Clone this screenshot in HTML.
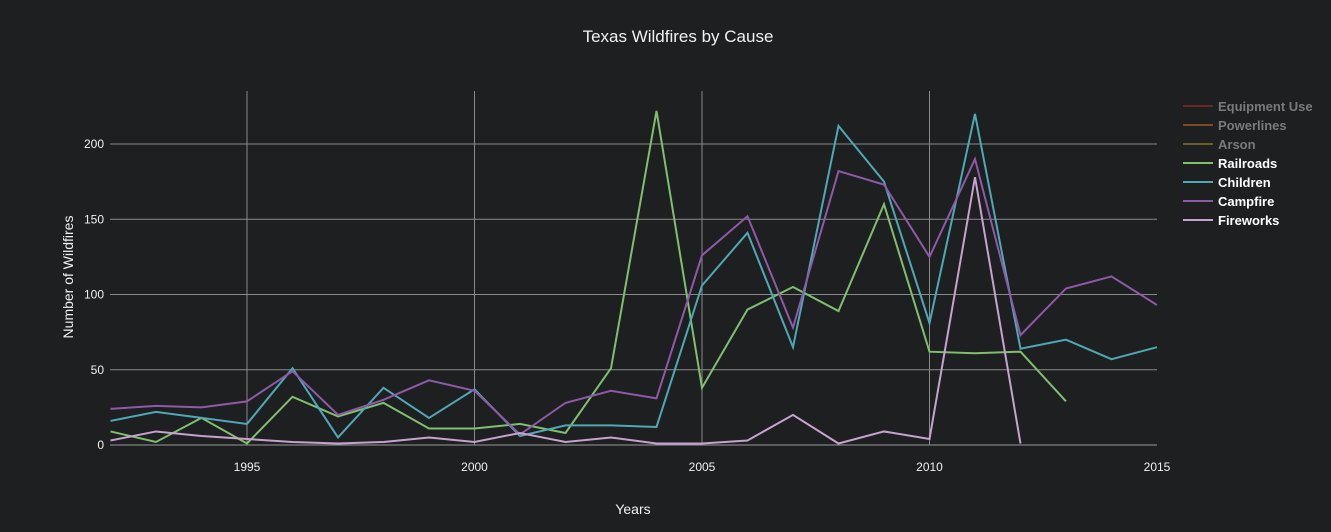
<!DOCTYPE html>
<html><head><meta charset="utf-8"><style>
body{margin:0;background:#1e1f21;font-family:"Liberation Sans",sans-serif}
svg text{font-family:"Liberation Sans",sans-serif}
</style></head><body>
<svg id="chart" width="1331" height="527">
<defs><clipPath id="lc"><rect x="1170" y="80" width="143" height="200"/></clipPath></defs>
<rect width="1331" height="527" fill="#1e1f21"/>
<text x="678" y="42" fill="#f0f0f0" font-size="17" text-anchor="middle">Texas Wildfires by Cause</text>
<g id="grid"></g><g id="series"></g><g id="legend" clip-path="url(#lc)"></g>
<text x="633" y="514" fill="#f0f0f0" font-size="14" text-anchor="middle">Years</text>
<text transform="translate(73,277) rotate(-90)" fill="#f0f0f0" font-size="14" text-anchor="middle">Number of Wildfires</text>
</svg>
<script>
const years=[1992,1993,1994,1995,1996,1997,1998,1999,2000,2001,2002,2003,2004,2005,2006,2007,2008,2009,2010,2011,2012,2013,2014,2015];
const railroads=[9,2,18,1,32,19,28,11,11,14,8,51,222,38,90,105,89,160,62,61,62,29];
const children=[16,22,18,14,51,5,38,18,37,6,13,13,12,106,141,65,212,175,81,220,64,70,57,65];
const campfire=[24,26,25,29,49,20,30,43,36,7,28,36,31,126,152,78,182,173,125,190,73,104,112,93];
const fireworks=[3,9,6,4,2,1,2,5,2,8,2,5,1,1,3,20,1,9,4,178,1];
const xTicks=[1995,2000,2005,2010,2015];
const yTicks=[0,50,100,150,200];
const legendNames=["Equipment Use","Powerlines","Arson","Railroads","Children","Campfire","Fireworks"];
const NS="http://www.w3.org/2000/svg";
const x=v=>110.5+(v-1992)*(1157-110.5)/23;
const y=v=>445-v*(445-144)/200;
function mk(tag,attrs,parent){const e=document.createElementNS(NS,tag);for(const k in attrs)e.setAttribute(k,attrs[k]);parent.appendChild(e);return e;}
const grid=document.getElementById('grid');
yTicks.forEach(t=>{
  const l=mk('line',{x1:110,x2:1157,y1:y(t),y2:y(t),stroke:t===0?'#9a9a9a':'#8a8a8a','stroke-width':1},grid);
  
  
  const tx=mk('text',{x:104,y:y(t)+4,fill:'#f0f0f0','font-size':12,'text-anchor':'end'},grid);
  tx.textContent=t;
  
  
});
xTicks.forEach(t=>{
  if(t<2015){const l=mk('line',{x1:x(t),x2:x(t),y1:91,y2:445,stroke:'#8a8a8a','stroke-width':1},grid);
  
  }
  const tx=mk('text',{x:x(t),y:471,fill:'#f0f0f0','font-size':12,'text-anchor':'middle'},grid);
  tx.textContent=t;
  
  
});
const ser=document.getElementById('series');
const S=[[railroads,'#7fbf6f','railroads-line'],[children,'#4fa8b5','children-line'],[campfire,'#8e5aa8','campfire-line'],[fireworks,'#c8a2cf','fireworks-line']];
S.forEach(([d,c,n])=>{
  const p=mk('polyline',{points:d.map((v,i)=>x(years[i])+','+y(v)).join(' '),fill:'none',stroke:c,'stroke-width':2},ser);
  
  
});
const leg=document.getElementById('legend');
const lc=['#6b2626','#7a4a28','#6e5c28','#7fbf6f','#4fa8b5','#8e5aa8','#c8a2cf'];
legendNames.forEach((nm,i)=>{
  const g=mk('g',{},leg);
  
  
  const yy=106+i*19;
  mk('line',{x1:1183,x2:1213,y1:yy,y2:yy,stroke:lc[i],'stroke-width':2},g);
  const t=mk('text',{x:1218,y:yy+5,fill:i<3?'#7a7a7a':'#ffffff','font-size':13,'font-weight':'bold'},g);
  t.textContent=nm;
});
</script>
</body></html>
